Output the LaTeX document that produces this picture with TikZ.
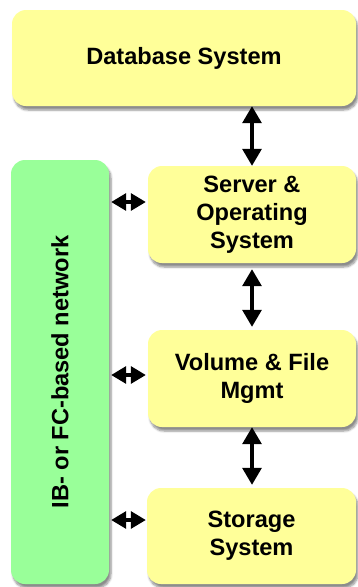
\documentclass[tikz,border=0pt]{standalone}
\usepackage{fontspec}
\setmainfont{Liberation Sans}
\usetikzlibrary{arrows.meta,shadows.blur}
\definecolor{boxyellow}{HTML}{FFFF99}
\definecolor{boxgreen}{HTML}{99FF99}
\tikzset{
  ybox/.style={fill=boxyellow, rounded corners=14pt, inner sep=0pt,
    font=\fontsize{23.6pt}{28pt}\selectfont\bfseries, align=center,
    blur shadow={shadow xshift=2pt, shadow yshift=-4pt, shadow blur steps=6, shadow opacity=45}},
  gbox/.style={fill=boxgreen, rounded corners=14pt, inner sep=0pt,
    blur shadow={shadow xshift=2pt, shadow yshift=-4pt, shadow blur steps=6, shadow opacity=45}},
  arr/.style={line width=3.2pt, {Triangle[length=17pt,width=19pt]}-{Triangle[length=17pt,width=19pt]}},
  harr/.style={line width=3.2pt, {Triangle[length=15pt,width=17pt]}-{Triangle[length=15pt,width=17pt]}},
}
\begin{document}
\begin{tikzpicture}[x=1pt,y=-1pt]
\useasboundingbox (0,0) rectangle (358,587);
\node[ybox, minimum width=344pt, minimum height=96pt] (db) at (184,58) {Database System};
\node[ybox, minimum width=208pt, minimum height=97pt] (srv) at (252,214.5) {Server \&\\Operating\\System};
\node[ybox, minimum width=208pt, minimum height=97pt] (vol) at (252,378.5) {Volume \& File\\Mgmt};
\node[ybox, minimum width=209pt, minimum height=96pt] (sto) at (251.5,536) {Storage\\System};
\node[gbox, minimum width=98pt, minimum height=424pt] (net) at (60,372) {};
\node[rotate=90, font=\fontsize{23.6pt}{28pt}\selectfont\bfseries] (netlbl) at (net.center) {IB- or FC-based network};
\draw[arr] (db.south -| srv.north) -- (srv.north);
\draw[arr, shorten <=6pt, shorten >=3pt] (srv.south) -- (vol.north);
\draw[arr, shorten >=3pt] (vol.south) -- (sto.north -| vol.south);
\coordinate (a1) at ([yshift=12.5pt]srv.west);
\coordinate (a2) at ([yshift=3.5pt]vol.west);
\coordinate (a3) at ([yshift=16pt,xshift=1pt]sto.west);
\draw[harr, shorten <=2pt, shorten >=2pt] (net.east |- a1) -- (a1);
\draw[harr, shorten <=2pt, shorten >=2pt] (net.east |- a2) -- (a2);
\draw[harr, shorten <=2pt, shorten >=2pt] (net.east |- a3) -- (a3);
\end{tikzpicture}
\end{document}
